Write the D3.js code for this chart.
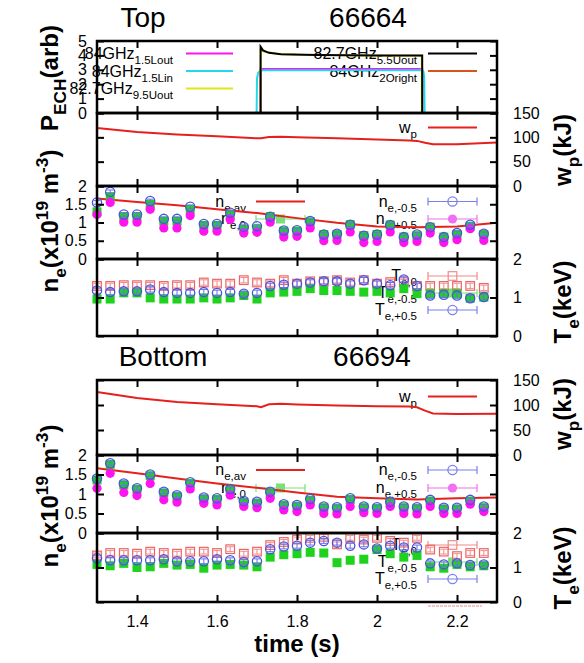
<!DOCTYPE html>
<html lang='en'>
<head>
<meta charset='utf-8'>
<title>ECH shots 66664 / 66694</title>
<script src='https://cdn.jsdelivr.net/npm/d3@7'></script>
<style>
  body { margin: 0; background: #fff; }
  text { font-family: 'Liberation Sans', Arial, sans-serif; }
</style>
</head>
<body>
<script>
// ---------- data ----------
var tTicks = [1.4, 1.6, 1.8, 2.0, 2.2];
var tTickLabels = ['1.4', '1.6', '1.8', '2', '2.2'];

// sample times of the profile points
var tPts = [1.300,1.333,1.367,1.400,1.433,1.467,1.500,1.533,1.567,1.600,1.633,1.667,1.700,1.733,1.767,
            1.800,1.833,1.867,1.900,1.933,1.967,2.000,2.033,2.067,2.100,2.133,2.167,2.200,2.233,2.267];

// P_ECH traces (shot 66664)
var ech15LoutT = [1.30, 1.709, 1.709, 2.113, 2.113, 2.30];
var ech15LoutV = [0, 0, 3.05, 3.05, 0, 0];
var ech15LinT  = [1.30, 1.699, 1.700, 1.703, 1.708, 1.715, 2.112, 2.116, 2.118, 2.119, 2.30];
var ech15LinV  = [0, 0, 2.4, 2.8, 2.93, 2.97, 2.97, 2.9, 2.5, 0, 0];
var ech95UoutT = [1.30, 1.709, 1.709, 1.72, 1.75, 1.80, 2.00, 2.112, 2.112, 2.30];
var ech95UoutV = [0, 0, 4.35, 4.25, 4.12, 4.05, 4.0, 3.98, 0, 0];
var ech55UoutT = [1.30, 1.709, 1.709, 1.715, 1.73, 1.76, 1.85, 2.00, 2.113, 2.113, 2.30];
var ech55UoutV = [0, 0, 4.6, 4.35, 4.18, 4.08, 4.03, 4.0, 4.0, 0, 0];
var ech2OrightT = [1.30, 2.30];
var ech2OrightV = [0, 0];

// stored energy
var wpTopT = [1.30,1.40,1.50,1.60,1.70,1.71,1.73,1.76,1.80,1.90,2.00,2.08,2.10,2.12,2.14,2.20,2.30];
var wpTopV = [119,111,106,102,98,98,100.7,101.3,100,98,95.3,93.3,92.7,88.7,86,86,89.3];
var wpBotT = [1.30,1.40,1.50,1.60,1.70,1.71,1.73,1.76,1.80,1.90,2.00,2.08,2.10,2.12,2.14,2.20,2.30];
var wpBotV = [126,114,106,101.6,97.5,95.5,101.6,102.3,101,99,97.5,96.9,95.5,88.7,83.2,81.9,82.5];

// line-averaged density
var neAvT = [1.3,1.4,1.5,1.6,1.7,1.8,1.9,2.0,2.1,2.2,2.3];
var neAvTop = [1.66,1.56,1.47,1.36,1.26,1.12,0.99,0.89,0.87,0.89,0.99];
var neAvBot = [1.66,1.53,1.40,1.27,1.16,1.04,0.93,0.89,0.86,0.89,0.91];

// local densities, shot 66664
var neTopM05 = [1.55,1.84,1.22,1.22,1.59,1.10,1.10,1.43,0.96,0.96,1.27,0.88,0.90,1.16,0.78,0.79,1.04,0.67,0.69,0.94,0.64,0.67,0.93,0.60,0.67,0.87,0.60,0.71,0.94,0.69];
var neTop0   = [1.29,1.71,1.16,1.16,1.50,1.04,1.04,1.36,0.92,0.92,1.22,0.82,0.82,1.16,0.76,0.76,1.02,0.67,0.67,0.94,0.64,0.67,0.93,0.60,0.64,0.87,0.60,0.67,0.90,0.67];
var neTopP05 = [1.22,1.55,1.01,1.01,1.36,0.85,0.85,1.19,0.76,0.76,1.08,0.71,0.73,1.01,0.60,0.62,0.85,0.50,0.51,0.74,0.45,0.48,0.74,0.45,0.48,0.71,0.45,0.53,0.83,0.51];
// local densities, shot 66694
var neBotM05 = [1.40,1.79,1.27,1.15,1.50,1.06,0.97,1.30,0.91,0.89,1.13,0.82,0.80,1.06,0.74,0.72,0.87,0.68,0.66,0.89,0.68,0.66,0.80,0.68,0.66,0.85,0.65,0.65,0.85,0.68];
var neBot0   = [1.36,1.76,1.24,1.12,1.47,1.03,0.94,1.27,0.88,0.86,1.10,0.79,0.77,1.03,0.71,0.69,0.84,0.65,0.63,0.86,0.65,0.63,0.77,0.65,0.63,0.82,0.62,0.62,0.82,0.65];
var neBotP05 = [1.15,1.53,1.04,0.96,1.27,0.85,0.79,1.13,0.76,0.72,0.97,0.68,0.65,0.89,0.59,0.55,0.72,0.50,0.49,0.68,0.52,0.50,0.68,0.50,0.49,0.68,0.50,0.50,0.74,0.55];

// electron temperatures, shot 66664
var teTop0   = [1.30,1.30,1.32,1.32,1.32,1.30,1.32,1.32,1.39,1.36,1.36,1.45,1.39,1.36,1.45,1.36,1.42,1.42,1.45,1.39,1.45,1.36,1.40,1.40,1.30,1.30,1.30,1.30,1.30,1.25];
var teTopM05 = [0.96,0.96,1.12,1.12,0.99,0.96,0.96,0.96,0.99,0.96,0.99,1.05,0.96,1.12,1.14,1.16,1.23,1.18,1.18,1.16,1.14,1.16,1.12,1.23,1.10,1.10,1.10,1.10,0.98,1.01];
var teTopP05 = [1.18,1.14,1.16,1.16,1.21,1.14,1.12,1.12,1.14,1.12,1.14,1.10,1.12,1.30,1.33,1.36,1.39,1.42,1.42,1.36,1.45,1.36,1.32,1.47,1.30,1.05,1.07,1.05,0.98,1.01];
// electron temperatures, shot 66694
var teBot0   = [1.35,1.42,1.42,1.40,1.46,1.42,1.40,1.46,1.46,1.42,1.53,1.40,1.46,1.65,1.74,1.81,1.86,1.89,1.67,1.86,1.81,1.86,1.77,1.72,1.86,1.52,1.46,1.33,1.42,1.42];
var teBotM05 = [1.09,1.05,1.12,1.00,1.02,1.12,1.07,1.09,0.98,1.07,1.09,1.07,1.02,1.30,1.37,1.40,1.44,1.42,1.14,1.21,1.24,1.52,1.40,1.30,1.35,1.02,0.98,1.09,1.02,1.05];
var teBotP05 = [1.27,1.21,1.21,1.21,1.21,1.24,1.18,1.18,1.18,1.24,1.21,1.16,1.18,1.53,1.61,1.63,1.72,1.77,1.72,1.63,1.67,1.55,1.63,1.58,1.58,1.12,1.09,1.12,1.07,1.09];

var neErr = 0.05, teErr = 0.07;

// ---------- page ----------
var W = 584, H = 663;
var svg = d3.select('body').append('svg').attr('width', W).attr('height', H);

var x = d3.scaleLinear().domain([1.3, 2.3]).range([97, 497]);

var yP  = d3.scaleLinear().domain([0, 5]).range([113, 41]);
var yW1 = d3.scaleLinear().domain([0, 150]).range([186, 113]);
var yN1 = d3.scaleLinear().domain([0, 2]).range([259, 186]);
var yT1 = d3.scaleLinear().domain([0, 2]).range([336, 259]);
var yW2 = d3.scaleLinear().domain([0, 150]).range([455, 380]);
var yN2 = d3.scaleLinear().domain([0, 2]).range([533, 455]);
var yT2 = d3.scaleLinear().domain([0, 2]).range([602, 533]);

var cBlue = '#4a52e0', cMag = '#ff14f0', cGreen = '#1ed21e', cRedSq = '#ee6464', cRed = '#e6201c';

var layerLegend = svg.append('g');
var layerData = svg.append('g');
var layerFrame = svg.append('g');

// text with sub/superscripts; parts = [[str, 'sub'|'sup'|undefined], ...]
function rich(g, x0, y0, parts, size, o) {
  o = o || {};
  var t = g.append('text').attr('x', x0).attr('y', y0).attr('font-size', size).style('white-space', 'pre');
  if (o.anchor) t.attr('text-anchor', o.anchor);
  if (o.bold) t.attr('font-weight', 'bold');
  if (o.rotate) t.attr('transform', 'rotate(-90,' + x0 + ',' + y0 + ')');
  var shift = 0;
  parts.forEach(function(p) {
    var target = p[1] === 'sub' ? size * 0.32 : p[1] === 'sup' ? -size * 0.42 : 0;
    t.append('tspan').attr('dy', target - shift).attr('font-size', p[1] ? size * 0.72 : size).text(p[0]);
    shift = target;
  });
  return t;
}

function marker(g, cx, cy, type, color) {
  if (type === 'circle') {
    g.append('circle').attr('cx', cx).attr('cy', cy).attr('r', 4.6).attr('fill', 'none').attr('stroke', color).attr('stroke-width', 1.3);
  } else if (type === 'dot') {
    g.append('circle').attr('cx', cx).attr('cy', cy).attr('r', 4.6).attr('fill', color);
  } else if (type === 'sq') {
    g.append('rect').attr('x', cx - 4.3).attr('y', cy - 4.3).attr('width', 8.6).attr('height', 8.6).attr('fill', 'none').attr('stroke', color).attr('stroke-width', 1.2);
  } else if (type === 'fsq') {
    g.append('rect').attr('x', cx - 4.5).attr('y', cy - 4.5).attr('width', 9).attr('height', 9).attr('fill', color);
  }
}

function sample(g, y, x0, x1, color, type, caps, lw) {
  g.append('line').attr('x1', x0).attr('x2', x1).attr('y1', y).attr('y2', y)
    .attr('stroke', color).attr('stroke-width', lw || 1.2);
  if (caps) {
    [x0, x1].forEach(function(xx) {
      g.append('line').attr('x1', xx).attr('x2', xx).attr('y1', y - 4).attr('y2', y + 4)
        .attr('stroke', color).attr('stroke-width', 1.2);
    });
  }
  if (type) marker(g, (x0 + x1) / 2, y, type, color);
}

function trace(yS, ts, vs, color, lw) {
  layerData.append('path').datum(ts.map(function(t, i) { return [t, vs[i]]; }))
    .attr('fill', 'none').attr('stroke', color).attr('stroke-width', lw || 2)
    .attr('d', d3.line().x(function(d) { return x(d[0]); }).y(function(d) { return yS(d[1]); }));
}

function points(yS, vals, type, color, err, errColor) {
  var g = layerData.append('g');
  var sel = g.selectAll('g').data(vals.map(function(v, i) { return [tPts[i], v]; })).enter().append('g');
  sel.each(function(d) {
    var gg = d3.select(this), cx = x(d[0]);
    if (err) {
      var y0 = yS(d[1] - err), y1 = yS(d[1] + err);
      gg.append('line').attr('x1', cx).attr('x2', cx).attr('y1', y0).attr('y2', y1).attr('stroke', errColor).attr('stroke-width', 1);
      [y0, y1].forEach(function(yy) {
        gg.append('line').attr('x1', cx - 3.5).attr('x2', cx + 3.5).attr('y1', yy).attr('y2', yy).attr('stroke', errColor).attr('stroke-width', 1);
      });
    }
    marker(gg, cx, yS(d[1]), type, color);
  });
}

function styleAxis(g) {
  g.select('.domain').remove();
  g.selectAll('.tick line').attr('stroke', '#000').attr('stroke-width', 2);
  g.selectAll('.tick text').attr('font-size', 16).attr('fill', '#000')
    .attr('font-family', "'Liberation Sans', Arial, sans-serif");
  g.attr('font-family', null).attr('font-size', null);
}

// o: {vals, labels, side:'left'|'right', xLabels}
function frame(yS, o) {
  var r = yS.range();
  var g = layerFrame.append('g');
  g.append('rect').attr('x', x.range()[0]).attr('y', r[1]).attr('width', x.range()[1] - x.range()[0])
    .attr('height', r[0] - r[1]).attr('fill', 'none').attr('stroke', '#000').attr('stroke-width', 2.5);
  g.append('g').attr('transform', 'translate(0,' + r[0] + ')')
    .call(d3.axisBottom(x).tickValues(tTicks).tickSize(-7).tickPadding(14)
      .tickFormat(function(d, i) { return o.xLabels ? tTickLabels[i] : ''; }))
    .call(styleAxis);
  g.append('g').attr('transform', 'translate(0,' + r[1] + ')')
    .call(d3.axisTop(x).tickValues(tTicks).tickSize(-7).tickFormat(''))
    .call(styleAxis);
  g.append('g').attr('transform', 'translate(' + x.range()[0] + ',0)')
    .call(d3.axisLeft(yS).tickValues(o.vals).tickSize(-7).tickPadding(10)
      .tickFormat(function(d, i) { return o.side === 'left' ? o.labels[i] : ''; }))
    .call(styleAxis);
  g.append('g').attr('transform', 'translate(' + x.range()[1] + ',0)')
    .call(d3.axisRight(yS).tickValues(o.vals).tickSize(-7).tickPadding(16)
      .tickFormat(function(d, i) { return o.side === 'right' ? o.labels[i] : ''; }))
    .call(styleAxis);
}

// ---------- titles ----------
svg.append('text').attr('x', 143).attr('y', 27).attr('text-anchor', 'middle').attr('font-size', 28).text('Top');
svg.append('text').attr('x', 368).attr('y', 27).attr('text-anchor', 'middle').attr('font-size', 28).text('66664');
svg.append('text').attr('x', 163).attr('y', 366).attr('text-anchor', 'middle').attr('font-size', 28).text('Bottom');
svg.append('text').attr('x', 372).attr('y', 366).attr('text-anchor', 'middle').attr('font-size', 28).text('66694');

// ---------- P_ECH panel ----------
var legL = 173, legR = 417, s1 = [186, 233], s2 = [428, 477];
var ly = layerLegend;
rich(ly, legL, 59, [['84GHz'], ['1.5Lout', 'sub']], 16, {anchor: 'end'});
sample(ly, 53.5, s1[0], s1[1], cMag, null, false, 2);
rich(ly, legL, 77, [['84GHz'], ['1.5Lin', 'sub']], 16, {anchor: 'end'});
sample(ly, 71, s1[0], s1[1], '#22d8ec', null, false, 2);
rich(ly, legL, 94, [['82.7GHz'], ['9.5Uout', 'sub']], 16, {anchor: 'end'});
sample(ly, 88.5, s1[0], s1[1], '#e4e418', null, false, 2);
rich(ly, legR, 59, [['82.7GHz'], ['5.5Uout', 'sub']], 16, {anchor: 'end'});
sample(ly, 53.5, s2[0], s2[1], '#000', null, false, 2);
rich(ly, legR, 77, [['84GHz'], ['2Oright', 'sub']], 16, {anchor: 'end'});
sample(ly, 71, s2[0], s2[1], '#d8541c', null, false, 2);

trace(yP, ech15LoutT, ech15LoutV, cMag);
trace(yP, ech15LinT, ech15LinV, '#22d8ec');
trace(yP, ech95UoutT, ech95UoutV, '#e4e418');
trace(yP, ech55UoutT, ech55UoutV, '#000');
trace(yP, ech2OrightT, ech2OrightV, '#d8541c');
frame(yP, {vals: [0, 1, 2, 3, 4, 5], labels: ['0', '1', '2', '3', '4', '5'], side: 'left'});

// ---------- w_p panels ----------
function wpPanel(yS, ts, vs, legY) {
  rich(layerLegend, legR, legY + 5, [['w'], ['p', 'sub']], 16, {anchor: 'end'});
  sample(layerLegend, legY, s2[0], s2[1], cRed, null, false, 2);
  trace(yS, ts, vs, cRed);
  frame(yS, {vals: [0, 50, 100, 150], labels: ['0', '50', '100', '150'], side: 'right'});
}
wpPanel(yW1, wpTopT, wpTopV, 127.5);
wpPanel(yW2, wpBotT, wpBotV, 396.5);

// ---------- n_e panels ----------
function nePanel(yS, av, m05, n0, p05, ly1, ly2) {
  var g = layerLegend;
  rich(g, 246, ly1 + 5, [['n'], ['e,av', 'sub']], 16, {anchor: 'end'});
  sample(g, ly1, 256, 305, cRed, null, false, 2);
  rich(g, 246, ly2 + 5, [['n'], ['e,0', 'sub']], 16, {anchor: 'end'});
  sample(g, ly2, 256, 305, '#7be07b', 'fsq', true);
  rich(g, legR, ly1 + 5, [['n'], ['e,-0.5', 'sub']], 16, {anchor: 'end'});
  sample(g, ly1, s2[0], s2[1], '#7a80ee', 'circle', true);
  rich(g, legR, ly2 + 5, [['n'], ['e,+0.5', 'sub']], 16, {anchor: 'end'});
  sample(g, ly2, s2[0], s2[1], '#f070f0', 'dot', true);

  trace(yS, neAvT, av, cRed);
  points(yS, n0, 'fsq', cGreen, neErr, '#7be07b');
  points(yS, p05, 'dot', cMag, neErr, '#f070f0');
  points(yS, m05, 'circle', cBlue, neErr, '#6a70ea');
  frame(yS, {vals: [0, 0.5, 1, 1.5, 2], labels: ['0', '0.5', '1', '1.5', '2'], side: 'left'});
}
nePanel(yN1, neAvTop, neTopM05, neTop0, neTopP05, 201.5, 219);
nePanel(yN2, neAvBot, neBotM05, neBot0, neBotP05, 470, 488);

// ---------- T_e panels ----------
function tePanel(yS, t0, m05, p05, rows, xLabels) {
  var g = layerLegend;
  rich(g, legR, rows[0] + 5, [['T'], ['e,0', 'sub']], 16, {anchor: 'end'});
  sample(g, rows[0], s2[0], s2[1], '#f08a8a', 'sq', true);
  rich(g, legR, rows[1] + 5, [['T'], ['e,-0.5', 'sub']], 16, {anchor: 'end'});
  sample(g, rows[1], s2[0], s2[1], '#7be07b', 'fsq', true);
  rich(g, legR, rows[2] + 5, [['T'], ['e,+0.5', 'sub']], 16, {anchor: 'end'});
  sample(g, rows[2], s2[0], s2[1], '#7a80ee', 'circle', true);

  points(yS, t0, 'sq', cRedSq, teErr, '#f08a8a');
  points(yS, m05, 'fsq', cGreen, teErr, '#7be07b');
  points(yS, p05, 'circle', cBlue, teErr, '#6a70ea');
  frame(yS, {vals: [0, 1, 2], labels: ['0', '1', '2'], side: 'right', xLabels: xLabels});
}
tePanel(yT1, teTop0, teTopM05, teTopP05, [276, 293, 310], false);
tePanel(yT2, teBot0, teBotM05, teBotP05, [545, 562, 579], true);

// stray key segment below the last frame
layerFrame.append('line').attr('x1', 428).attr('x2', 482).attr('y1', 606).attr('y2', 606)
  .attr('stroke', '#f08a8a').attr('stroke-width', 1.2).attr('stroke-dasharray', '3,1');

// ---------- axis titles ----------
var lab = svg.append('g');
rich(lab, 58, 78, [['P'], ['ECH', 'sub'], ['(arb)']], 24, {anchor: 'middle', bold: true, rotate: true});
rich(lab, 58, 221, [['n'], ['e', 'sub'], ['(x10'], ['19', 'sup'], [' m'], ['-3', 'sup'], [')']], 24, {anchor: 'middle', bold: true, rotate: true});
rich(lab, 58, 496, [['n'], ['e', 'sub'], ['(x10'], ['19', 'sup'], [' m'], ['-3', 'sup'], [')']], 24, {anchor: 'middle', bold: true, rotate: true});
rich(lab, 571, 150, [['w'], ['p', 'sub'], ['(kJ)']], 24, {anchor: 'middle', bold: true, rotate: true});
rich(lab, 571, 302, [['T'], ['e', 'sub'], ['(keV)']], 24, {anchor: 'middle', bold: true, rotate: true});
rich(lab, 571, 414, [['w'], ['p', 'sub'], ['(kJ)']], 24, {anchor: 'middle', bold: true, rotate: true});
rich(lab, 571, 568, [['T'], ['e', 'sub'], ['(keV)']], 24, {anchor: 'middle', bold: true, rotate: true});
svg.append('text').attr('x', 297).attr('y', 652).attr('text-anchor', 'middle')
  .attr('font-size', 24).attr('font-weight', 'bold').text('time (s)');
</script>
</body>
</html>
